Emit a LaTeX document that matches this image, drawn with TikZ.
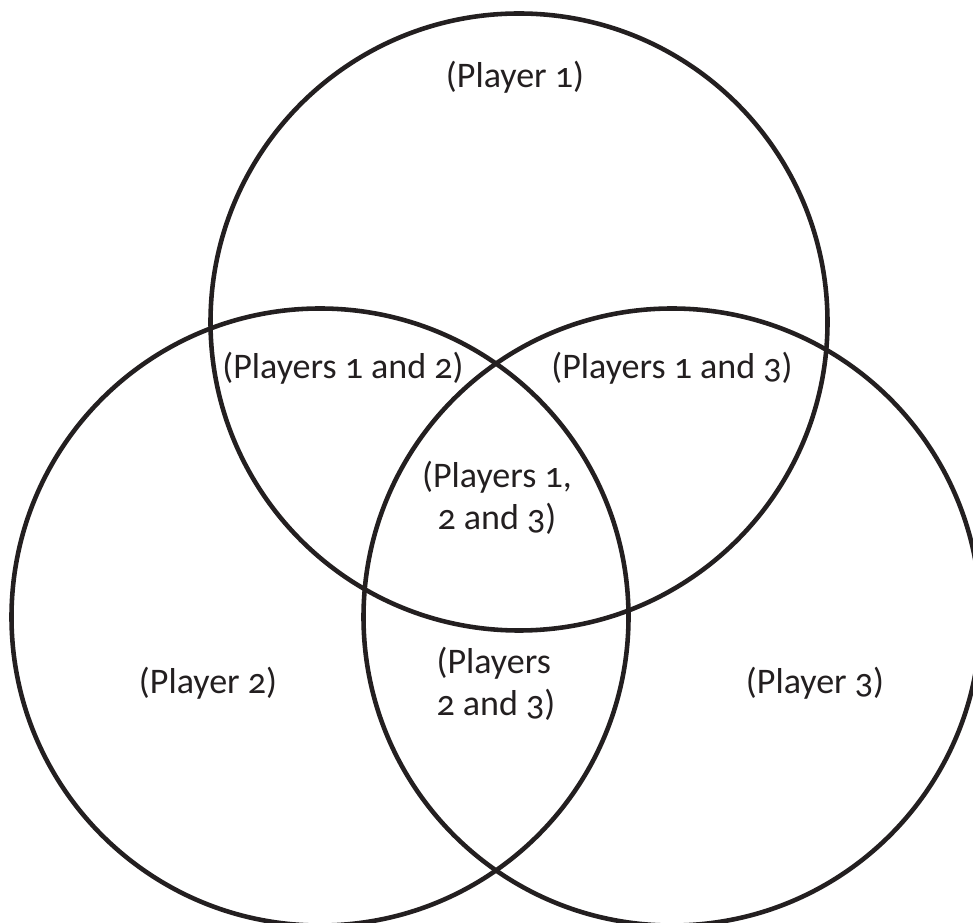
\documentclass[tikz,border=0pt]{standalone}
\usepackage{fontspec}
\setmainfont[Numbers=OldStyle]{Carlito}
\usetikzlibrary{positioning}
\definecolor{ink}{HTML}{231F20}

\begin{document}
\begin{tikzpicture}[
    player/.style={circle,draw=ink,line width=2.6pt,minimum size=12.34cm,inner sep=0pt,outer sep=0pt},
    region/.style={text=ink,font=\fontsize{20.5}{24}\selectfont,inner sep=0pt}]
  \useasboundingbox (0,0) rectangle (19.46,18.44);
  \node[player] (p1) at (10.38,12.00) {};
  \node[player] (p2) at (6.40,6.10) {};
  \node[player] (p3) at (13.44,6.10) {};

  \node[region] (one)   at (10.30,16.90) {(Player 1)};
  \node[region] (onetwo) at (6.86,11.08) {(Players 1 and 2)};
  \node[region] (onethree) at (13.44,11.08) {(Players 1 and 3)};
  \node[region,align=center] (all) at (9.94,8.48) {(Players 1,\\ 2 and 3)};
  \node[region] (two)   at (4.16,4.78) {(Player 2)};
  \node[region,align=left] (twothree) at (9.92,4.76) {(Players\\ 2 and 3)};
  \node[region] (three) at (16.30,4.78) {(Player 3)};
\end{tikzpicture}
\end{document}
